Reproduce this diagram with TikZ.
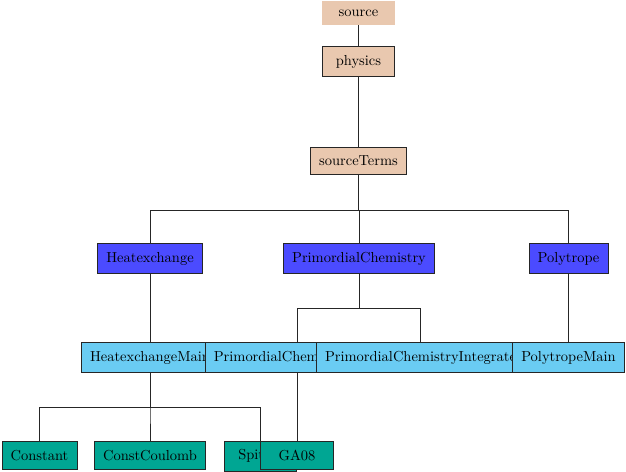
\documentclass[tikz,border=0pt]{standalone}
\definecolor{peach}{HTML}{E9C8AF}
\definecolor{bluebox}{HTML}{4B4BFF}
\definecolor{lightbox}{HTML}{6ACCF3}
\definecolor{tealbox}{HTML}{00A693}
\tikzset{
  box/.style={draw=black!85, line width=0.5pt, inner xsep=6pt, inner ysep=5.9pt, minimum width=50pt},
  lvlzero/.style={fill=peach, inner xsep=6pt, inner ysep=5.9pt, minimum width=50pt},
  lvlone/.style={box, fill=peach},
  lvltwo/.style={box, fill=bluebox},
  lvlthree/.style={box, fill=lightbox},
  lvlfour/.style={box, fill=tealbox},
  link/.style={draw=black!85, line width=0.5pt}
}
\begin{document}
\begin{tikzpicture}[x=0.69pt, y=-0.69pt]
\useasboundingbox (0,0) rectangle (626,472);
\coordinate (bA) at (0,210);
\coordinate (bB) at (0,308);
\coordinate (bC) at (0,407);
\node[lvlzero] (src) at (358.5,13) {source};
\node[lvlone] (phy) at (358.5,61.5) {physics};
\node[lvlone] (st) at (358.5,160.5) {sourceTerms};
\node[lvltwo] (he) at (150,258.5) {Heatexchange};
\node[lvltwo] (pc) at (359,258.5) {PrimordialChemistry};
\node[lvltwo] (po) at (568.5,258.5) {Polytrope};
\node[lvlthree] (hm) at (150,357.5) {HeatexchangeMain};
\node[lvlthree] (pcm) at (297,357.5) {PrimordialChemistryMain};
\node[lvlthree] (pci) at (420.5,357.5) {PrimordialChemistryIntegrate};
\node[lvlthree] (pom) at (568.5,357.5) {PolytropeMain};
\node[lvlfour] (co) at (39.5,455.5) {Constant};
\node[lvlfour] (cc) at (150,455.5) {ConstCoulomb};
\node[lvlfour] (sp) at (260.5,456) {Spitzer};
\node[lvlfour] (ga) at (297,455.5) {GA08};
\draw[link] (src.south) -- (phy.north);
\draw[link] (phy.south) -- (st.north);
\draw[link] (st.south) -- (st.south |- bA) -| (he.north);
\draw[link] (st.south) -- (st.south |- bA) -| (pc.north);
\draw[link] (st.south) -- (st.south |- bA) -| (po.north);
\draw[link] (he.south) -- (hm.north);
\draw[link] (pc.south) -- (pc.south |- bB) -| (pcm.north);
\draw[link] (pc.south) -- (pc.south |- bB) -| (pci.north);
\draw[link] (po.south) -- (pom.north);
\draw[link] (hm.south) -- (hm.south |- bC) -| (co.north);
\draw[link] (hm.south) -- (hm.south |- bC) -| (cc.north);
\draw[link] (hm.south) -- (hm.south |- bC) -| (sp.north);
\draw[link] (pcm.south) -- (ga.north);
\end{tikzpicture}
\end{document}
